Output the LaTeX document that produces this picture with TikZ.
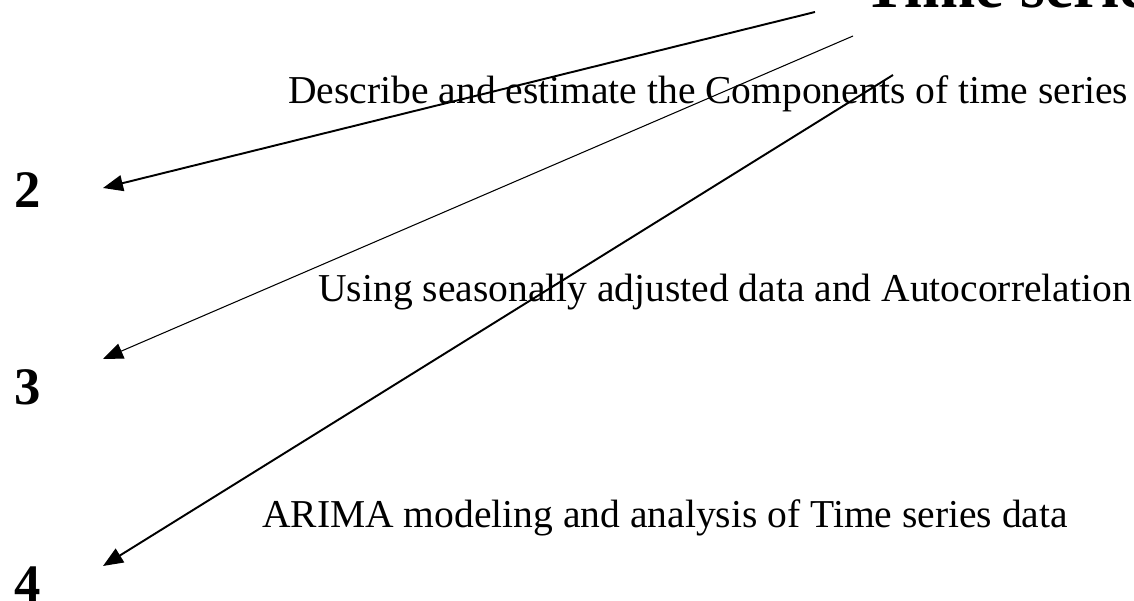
\documentclass[tikz,border=0pt]{standalone}
\usepackage{fontspec}
\setmainfont{Liberation Serif}
\usetikzlibrary{arrows.meta}
\tikzset{
    steptext/.style={anchor=base west, inner sep=0pt, font=\fontsize{22.5}{27}\selectfont},
    stepnum/.style={anchor=base west, inner sep=0pt, font=\fontsize{30}{36}\selectfont\bfseries},
    pointer/.style={-{Triangle[length=0.4cm,width=0.32cm]}, line width=1.1pt},
}
\begin{document}
\begin{tikzpicture}[x=0.02cm,y=-0.02cm]
    \useasboundingbox (0,0) rectangle (1134,601);
    % Title, cut at the top edge
    \node[anchor=base west, inner sep=0pt, font=\fontsize{36.4}{40}\selectfont\bfseries] (title) at (863,8) {Time series};
    % Step texts
    \node[steptext] (comp) at (288,104) {Describe and estimate the Components of time series};
    \node[steptext] (adj) at (318,302) {Using seasonally adjusted data and Autocorrelation};
    \node[steptext] (arima) at (262,528) {ARIMA modeling and analysis of Time series data};
    % Step numbers
    \node[stepnum] (n2) at (14,208) {2};
    \node[stepnum] (n3) at (14,405) {3};
    \node[stepnum] (n4) at (14,602) {4};
    % Arrow ends
    \coordinate (A0) at (815,12);
    \coordinate (A1) at (103,188);
    \coordinate (B0) at (853,36);
    \coordinate (B1) at (103,359);
    \coordinate (C0) at (893,75);
    \coordinate (C1) at (103,566);

    \draw[pointer] (A0) -- (A1);
    \draw[pointer, line width=0.6pt] (B0) -- (B1);
    \draw[pointer] (C0) -- (C1);
\end{tikzpicture}
\end{document}
